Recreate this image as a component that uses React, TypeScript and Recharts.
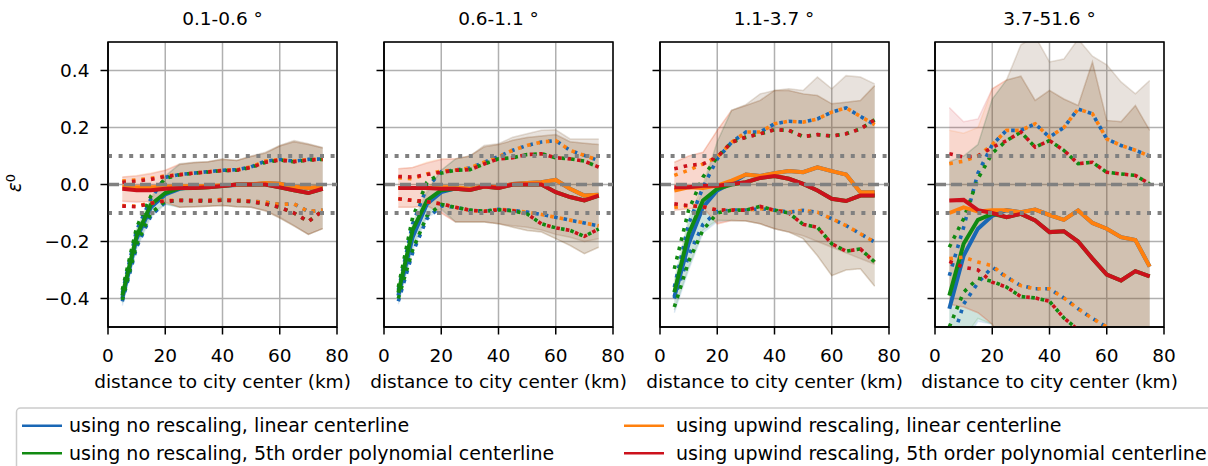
import React from 'react';
import { ComposedChart, Line, Area, XAxis, YAxis, CartesianGrid, ReferenceLine, ReferenceArea } from 'recharts';

// ---------- data ----------
const DISTANCE_KM = [5, 10, 15, 20, 25, 30, 35, 40, 45, 50, 55, 60, 65, 70, 75];
const PANEL_TITLES = ['0.1-0.6 °', '0.6-1.1 °', '1.1-3.7 °', '3.7-51.6 °'];
const X_TICKS = [0, 20, 40, 60, 80];
const Y_TICKS = [-0.4, -0.2, 0, 0.2, 0.4];
const X_DOMAIN = [0, 80];
const Y_DOMAIN = [-0.5, 0.5];
const ZERO_LEVEL = 0;
const TOLERANCE_LEVELS = [0.1, -0.1];
const X_LABEL = 'distance to city center (km)';

// panel 1 : 0.1-0.6 °
const p1BlueMean = [-0.40, -0.19, -0.08, -0.035, -0.015, -0.008, -0.006, -0.004, -0.002, 0.0, 0.004, 0.003, -0.008, -0.012, -0.008];
const p1OrangeMean = [-0.008, -0.01, -0.01, -0.008, -0.006, -0.006, -0.005, -0.003, -0.001, 0.001, 0.005, 0.003, -0.008, -0.012, -0.008];
const p1GreenMean = [-0.39, -0.18, -0.07, -0.03, -0.013, -0.012, -0.01, -0.005, 0.0, 0.0, 0.0, -0.01, -0.02, -0.03, -0.015];
const p1RedMean = [-0.015, -0.02, -0.02, -0.015, -0.012, -0.012, -0.01, -0.005, 0.0, 0.0, 0.0, -0.01, -0.02, -0.03, -0.015];
const p1BlueUp = [-0.38, -0.16, -0.05, 0.025, 0.035, 0.04, 0.045, 0.05, 0.052, 0.062, 0.082, 0.088, 0.082, 0.088, 0.09];
const p1OrangeUp = [0.012, 0.016, 0.022, 0.03, 0.035, 0.04, 0.045, 0.05, 0.052, 0.062, 0.082, 0.088, 0.082, 0.088, 0.09];
const p1GreenUp = [-0.37, -0.15, -0.04, 0.022, 0.034, 0.04, 0.044, 0.049, 0.05, 0.06, 0.078, 0.086, 0.08, 0.086, 0.088];
const p1RedUp = [0.008, 0.012, 0.018, 0.028, 0.034, 0.04, 0.044, 0.049, 0.05, 0.06, 0.078, 0.086, 0.08, 0.086, 0.088];
const p1BlueLo = [-0.41, -0.22, -0.11, -0.062, -0.055, -0.055, -0.055, -0.053, -0.055, -0.058, -0.062, -0.07, -0.068, -0.095, -0.09];
const p1OrangeLo = [-0.074, -0.076, -0.065, -0.056, -0.055, -0.055, -0.055, -0.053, -0.055, -0.058, -0.062, -0.07, -0.068, -0.095, -0.09];
const p1GreenLo = [-0.405, -0.21, -0.1, -0.058, -0.056, -0.057, -0.058, -0.055, -0.057, -0.06, -0.068, -0.08, -0.1, -0.13, -0.092];
const p1RedLo = [-0.076, -0.078, -0.066, -0.058, -0.056, -0.057, -0.058, -0.055, -0.057, -0.06, -0.068, -0.08, -0.1, -0.13, -0.092];
const p1BlueBandHi = [-0.375, -0.165, -0.055, 0.03, 0.073, 0.078, 0.08, 0.09, 0.084, 0.1, 0.113, 0.137, 0.154, 0.143, 0.13];
const p1BlueBandLo = [-0.425, -0.225, -0.115, -0.07, -0.08, -0.078, -0.076, -0.074, -0.078, -0.08, -0.091, -0.115, -0.144, -0.175, -0.155];
const p1OrangeBandHi = [0.026, 0.032, 0.04, 0.05, 0.073, 0.078, 0.08, 0.09, 0.084, 0.1, 0.113, 0.137, 0.154, 0.143, 0.13];
const p1OrangeBandLo = [-0.058, -0.06, -0.06, -0.062, -0.08, -0.078, -0.076, -0.074, -0.078, -0.08, -0.091, -0.115, -0.144, -0.175, -0.155];
const p1GreenBandHi = [-0.365, -0.155, -0.045, 0.03, 0.07, 0.076, 0.08, 0.088, 0.084, 0.098, 0.11, 0.135, 0.15, 0.14, 0.128];
const p1GreenBandLo = [-0.415, -0.215, -0.105, -0.068, -0.08, -0.078, -0.076, -0.074, -0.078, -0.08, -0.093, -0.118, -0.146, -0.175, -0.155];
const p1RedBandHi = [0.026, 0.03, 0.038, 0.05, 0.07, 0.076, 0.08, 0.088, 0.084, 0.098, 0.11, 0.135, 0.15, 0.14, 0.128];
const p1RedBandLo = [-0.06, -0.062, -0.06, -0.062, -0.08, -0.078, -0.076, -0.074, -0.078, -0.08, -0.093, -0.118, -0.146, -0.175, -0.155];

// panel 2 : 0.6-1.1 °
const p2BlueMean = [-0.39, -0.185, -0.068, -0.027, -0.013, -0.015, -0.007, -0.01, 0.002, 0.005, 0.008, 0.016, -0.015, -0.039, -0.036];
const p2OrangeMean = [-0.012, -0.012, -0.012, -0.01, -0.01, -0.015, -0.007, -0.01, 0.002, 0.005, 0.008, 0.016, -0.015, -0.039, -0.036];
const p2GreenMean = [-0.38, -0.16, -0.056, -0.02, -0.015, -0.019, -0.007, -0.012, 0.0, 0.0, 0.0, -0.027, -0.044, -0.056, -0.039];
const p2RedMean = [-0.012, -0.012, -0.012, -0.015, -0.015, -0.019, -0.007, -0.012, 0.0, 0.0, 0.0, -0.027, -0.044, -0.056, -0.039];
const p2BlueUp = [-0.37, -0.138, -0.01, 0.045, 0.051, 0.058, 0.078, 0.098, 0.12, 0.137, 0.149, 0.154, 0.12, 0.102, 0.084];
const p2OrangeUp = [0.024, 0.02, 0.037, 0.047, 0.051, 0.058, 0.078, 0.098, 0.12, 0.137, 0.149, 0.154, 0.12, 0.102, 0.084];
const p2GreenUp = [-0.36, -0.115, 0.008, 0.04, 0.05, 0.052, 0.072, 0.09, 0.094, 0.105, 0.108, 0.094, 0.09, 0.082, 0.061];
const p2RedUp = [0.028, 0.026, 0.035, 0.043, 0.05, 0.052, 0.072, 0.09, 0.094, 0.105, 0.108, 0.094, 0.09, 0.082, 0.061];
const p2BlueLo = [-0.41, -0.24, -0.12, -0.075, -0.08, -0.091, -0.094, -0.087, -0.091, -0.097, -0.105, -0.115, -0.125, -0.135, -0.145];
const p2OrangeLo = [-0.05, -0.056, -0.06, -0.068, -0.08, -0.091, -0.094, -0.087, -0.091, -0.097, -0.105, -0.115, -0.125, -0.135, -0.145];
const p2GreenLo = [-0.4, -0.23, -0.11, -0.07, -0.08, -0.09, -0.094, -0.089, -0.092, -0.103, -0.138, -0.152, -0.161, -0.182, -0.156];
const p2RedLo = [-0.05, -0.056, -0.06, -0.068, -0.08, -0.09, -0.094, -0.089, -0.092, -0.103, -0.138, -0.152, -0.161, -0.182, -0.156];
const p2BlueBandHi = [-0.37, -0.15, -0.03, 0.05, 0.09, 0.1, 0.137, 0.143, 0.166, 0.178, 0.19, 0.192, 0.16, 0.16, 0.16];
const p2BlueBandLo = [-0.42, -0.23, -0.115, -0.09, -0.132, -0.132, -0.132, -0.138, -0.145, -0.15, -0.16, -0.175, -0.185, -0.2, -0.19];
const p2OrangeBandHi = [0.055, 0.06, 0.078, 0.09, 0.09, 0.1, 0.137, 0.143, 0.166, 0.178, 0.19, 0.192, 0.16, 0.16, 0.16];
const p2OrangeBandLo = [-0.08, -0.08, -0.075, -0.1, -0.132, -0.132, -0.132, -0.138, -0.145, -0.15, -0.16, -0.175, -0.185, -0.2, -0.19];
const p2GreenBandHi = [-0.36, -0.135, -0.02, 0.05, 0.09, 0.1, 0.132, 0.14, 0.155, 0.165, 0.17, 0.175, 0.15, 0.145, 0.14];
const p2GreenBandLo = [-0.41, -0.215, -0.105, -0.085, -0.132, -0.132, -0.132, -0.138, -0.15, -0.161, -0.167, -0.19, -0.214, -0.243, -0.22];
const p2RedBandHi = [0.055, 0.06, 0.075, 0.088, 0.09, 0.1, 0.132, 0.14, 0.155, 0.165, 0.17, 0.175, 0.15, 0.145, 0.14];
const p2RedBandLo = [-0.08, -0.08, -0.075, -0.1, -0.132, -0.132, -0.132, -0.138, -0.15, -0.161, -0.167, -0.19, -0.214, -0.243, -0.22];

// panel 3 : 1.1-3.7 °
const p3BlueMean = [-0.395, -0.208, -0.08, -0.021, 0.005, 0.035, 0.03, 0.04, 0.047, 0.043, 0.06, 0.047, 0.035, -0.027, -0.027];
const p3OrangeMean = [-0.021, -0.01, -0.012, -0.004, 0.014, 0.035, 0.03, 0.04, 0.047, 0.043, 0.06, 0.047, 0.035, -0.027, -0.027];
const p3GreenMean = [-0.378, -0.173, -0.056, -0.015, 0.0, 0.008, 0.023, 0.03, 0.02, 0.002, -0.021, -0.05, -0.058, -0.039, -0.039];
const p3RedMean = [-0.01, -0.01, -0.004, -0.004, 0.002, 0.008, 0.023, 0.03, 0.02, 0.002, -0.021, -0.05, -0.058, -0.039, -0.039];
const p3BlueUp = [-0.36, -0.138, -0.01, 0.09, 0.148, 0.184, 0.184, 0.213, 0.222, 0.219, 0.23, 0.254, 0.269, 0.239, 0.21];
const p3OrangeUp = [0.032, 0.05, 0.072, 0.096, 0.148, 0.184, 0.184, 0.213, 0.222, 0.219, 0.23, 0.254, 0.269, 0.239, 0.21];
const p3GreenUp = [-0.296, -0.09, 0.026, 0.096, 0.148, 0.166, 0.178, 0.192, 0.19, 0.168, 0.175, 0.17, 0.178, 0.195, 0.227];
const p3RedUp = [0.055, 0.067, 0.072, 0.096, 0.148, 0.166, 0.178, 0.192, 0.19, 0.168, 0.175, 0.17, 0.178, 0.195, 0.227];
const p3BlueLo = [-0.4, -0.25, -0.14, -0.095, -0.09, -0.09, -0.085, -0.09, -0.097, -0.091, -0.097, -0.12, -0.144, -0.173, -0.202];
const p3OrangeLo = [-0.08, -0.074, -0.078, -0.09, -0.09, -0.09, -0.085, -0.09, -0.097, -0.091, -0.097, -0.12, -0.144, -0.173, -0.202];
const p3GreenLo = [-0.43, -0.27, -0.16, -0.1, -0.09, -0.09, -0.077, -0.09, -0.1, -0.14, -0.15, -0.208, -0.234, -0.226, -0.272];
const p3RedLo = [-0.068, -0.074, -0.078, -0.09, -0.09, -0.09, -0.077, -0.09, -0.1, -0.14, -0.15, -0.208, -0.234, -0.226, -0.272];
const p3BlueBandHi = [-0.36, -0.14, -0.02, 0.15, 0.26, 0.28, 0.318, 0.33, 0.336, 0.33, 0.377, 0.336, 0.382, 0.377, 0.353];
const p3BlueBandLo = [-0.45, -0.3, -0.17, -0.13, -0.126, -0.128, -0.138, -0.155, -0.167, -0.18, -0.2, -0.22, -0.24, -0.26, -0.28];
const p3OrangeBandHi = [0.078, 0.1, 0.113, 0.19, 0.26, 0.28, 0.318, 0.33, 0.336, 0.33, 0.377, 0.336, 0.382, 0.377, 0.353];
const p3OrangeBandLo = [-0.09, -0.085, -0.08, -0.138, -0.126, -0.128, -0.138, -0.155, -0.167, -0.18, -0.2, -0.22, -0.24, -0.26, -0.28];
const p3GreenBandHi = [-0.34, -0.12, 0.0, 0.15, 0.26, 0.277, 0.295, 0.33, 0.33, 0.318, 0.312, 0.283, 0.289, 0.295, 0.347];
const p3GreenBandLo = [-0.44, -0.29, -0.16, -0.125, -0.126, -0.128, -0.138, -0.155, -0.167, -0.19, -0.25, -0.32, -0.3, -0.296, -0.357];
const p3RedBandHi = [0.078, 0.1, 0.113, 0.19, 0.26, 0.277, 0.295, 0.33, 0.33, 0.318, 0.312, 0.283, 0.289, 0.295, 0.347];
const p3RedBandLo = [-0.09, -0.085, -0.08, -0.138, -0.126, -0.128, -0.138, -0.155, -0.167, -0.19, -0.25, -0.32, -0.3, -0.296, -0.357];

// panel 4 : 3.7-51.6 °
const p4BlueMean = [-0.436, -0.25, -0.155, -0.11, -0.09, -0.097, -0.088, -0.107, -0.124, -0.091, -0.135, -0.155, -0.185, -0.195, -0.288];
const p4OrangeMean = [-0.1, -0.08, -0.095, -0.09, -0.09, -0.097, -0.088, -0.107, -0.124, -0.091, -0.135, -0.155, -0.185, -0.195, -0.288];
const p4GreenMean = [-0.39, -0.208, -0.124, -0.103, -0.115, -0.103, -0.126, -0.167, -0.164, -0.2, -0.26, -0.316, -0.337, -0.304, -0.322];
const p4RedMean = [-0.056, -0.054, -0.09, -0.1, -0.115, -0.103, -0.126, -0.167, -0.164, -0.2, -0.26, -0.316, -0.337, -0.304, -0.322];
const p4BlueUp = [-0.32, -0.15, 0.04, 0.14, 0.19, 0.19, 0.213, 0.166, 0.2, 0.265, 0.248, 0.16, 0.137, 0.12, 0.1];
const p4OrangeUp = [0.073, 0.082, 0.1, 0.14, 0.19, 0.19, 0.213, 0.166, 0.2, 0.265, 0.248, 0.16, 0.137, 0.12, 0.1];
const p4GreenUp = [-0.22, -0.12, 0.02, 0.11, 0.154, 0.184, 0.131, 0.154, 0.12, 0.073, 0.078, 0.043, 0.037, 0.032, 0.002];
const p4RedUp = [0.108, 0.096, 0.1, 0.13, 0.154, 0.184, 0.131, 0.154, 0.12, 0.073, 0.078, 0.043, 0.037, 0.032, 0.002];
const p4BlueLo = [-0.58, -0.42, -0.345, -0.29, -0.325, -0.355, -0.366, -0.366, -0.398, -0.436, -0.47, -0.5, -0.53, -0.56, -0.6];
const p4OrangeLo = [-0.26, -0.255, -0.272, -0.285, -0.325, -0.355, -0.366, -0.366, -0.398, -0.436, -0.47, -0.5, -0.53, -0.56, -0.6];
const p4GreenLo = [-0.5, -0.378, -0.329, -0.34, -0.36, -0.393, -0.398, -0.41, -0.468, -0.51, -0.56, -0.6, -0.64, -0.67, -0.7];
const p4RedLo = [-0.27, -0.29, -0.3, -0.343, -0.36, -0.393, -0.398, -0.41, -0.468, -0.51, -0.56, -0.6, -0.64, -0.67, -0.7];
const p4BlueBandHi = [0.08, 0.1, 0.14, 0.3, 0.367, 0.49, 0.52, 0.43, 0.44, 0.51, 0.45, 0.42, 0.36, 0.318, 0.365];
const p4BlueBandLo = [-0.62, -0.56, -0.48, -0.49, -0.62, -0.65, -0.66, -0.68, -0.7, -0.72, -0.74, -0.76, -0.78, -0.8, -0.82];
const p4OrangeBandHi = [0.19, 0.18, 0.2, 0.336, 0.367, 0.49, 0.52, 0.43, 0.44, 0.51, 0.45, 0.42, 0.36, 0.318, 0.365];
const p4OrangeBandLo = [-0.42, -0.43, -0.45, -0.49, -0.62, -0.65, -0.66, -0.68, -0.7, -0.72, -0.74, -0.76, -0.78, -0.8, -0.82];
const p4GreenBandHi = [0.08, 0.1, 0.14, 0.3, 0.367, 0.38, 0.295, 0.33, 0.3, 0.277, 0.43, 0.225, 0.22, 0.277, 0.19];
const p4GreenBandLo = [-0.6, -0.54, -0.47, -0.49, -0.65, -0.7, -0.72, -0.75, -0.8, -0.85, -0.9, -0.92, -0.94, -0.96, -0.98];
const p4RedBandHi = [0.27, 0.22, 0.23, 0.336, 0.367, 0.38, 0.295, 0.33, 0.3, 0.277, 0.43, 0.225, 0.22, 0.277, 0.19];
const p4RedBandLo = [-0.42, -0.43, -0.45, -0.49, -0.65, -0.7, -0.72, -0.75, -0.8, -0.85, -0.9, -0.92, -0.94, -0.96, -0.98];

// ---------- series meta ----------
const SERIES_KEYS = ['blue', 'green', 'orange', 'red'];
const SERIES_COLORS: Record<string, string> = {
  blue: '#1967b5',
  green: '#118a11',
  orange: '#ff800e',
  red: '#cc111c',
};
const SERIES_LABELS: Record<string, string> = {
  blue: 'using no rescaling, linear centerline',
  green: 'using no rescaling, 5th order polynomial centerline',
  orange: 'using upwind rescaling, linear centerline',
  red: 'using upwind rescaling, 5th order polynomial centerline',
};

const PANEL_SERIES: any[] = [
  {
    blue: { mean: p1BlueMean, up: p1BlueUp, lo: p1BlueLo, bandHi: p1BlueBandHi, bandLo: p1BlueBandLo },
    green: { mean: p1GreenMean, up: p1GreenUp, lo: p1GreenLo, bandHi: p1GreenBandHi, bandLo: p1GreenBandLo },
    orange: { mean: p1OrangeMean, up: p1OrangeUp, lo: p1OrangeLo, bandHi: p1OrangeBandHi, bandLo: p1OrangeBandLo },
    red: { mean: p1RedMean, up: p1RedUp, lo: p1RedLo, bandHi: p1RedBandHi, bandLo: p1RedBandLo },
  },
  {
    blue: { mean: p2BlueMean, up: p2BlueUp, lo: p2BlueLo, bandHi: p2BlueBandHi, bandLo: p2BlueBandLo },
    green: { mean: p2GreenMean, up: p2GreenUp, lo: p2GreenLo, bandHi: p2GreenBandHi, bandLo: p2GreenBandLo },
    orange: { mean: p2OrangeMean, up: p2OrangeUp, lo: p2OrangeLo, bandHi: p2OrangeBandHi, bandLo: p2OrangeBandLo },
    red: { mean: p2RedMean, up: p2RedUp, lo: p2RedLo, bandHi: p2RedBandHi, bandLo: p2RedBandLo },
  },
  {
    blue: { mean: p3BlueMean, up: p3BlueUp, lo: p3BlueLo, bandHi: p3BlueBandHi, bandLo: p3BlueBandLo },
    green: { mean: p3GreenMean, up: p3GreenUp, lo: p3GreenLo, bandHi: p3GreenBandHi, bandLo: p3GreenBandLo },
    orange: { mean: p3OrangeMean, up: p3OrangeUp, lo: p3OrangeLo, bandHi: p3OrangeBandHi, bandLo: p3OrangeBandLo },
    red: { mean: p3RedMean, up: p3RedUp, lo: p3RedLo, bandHi: p3RedBandHi, bandLo: p3RedBandLo },
  },
  {
    blue: { mean: p4BlueMean, up: p4BlueUp, lo: p4BlueLo, bandHi: p4BlueBandHi, bandLo: p4BlueBandLo },
    green: { mean: p4GreenMean, up: p4GreenUp, lo: p4GreenLo, bandHi: p4GreenBandHi, bandLo: p4GreenBandLo },
    orange: { mean: p4OrangeMean, up: p4OrangeUp, lo: p4OrangeLo, bandHi: p4OrangeBandHi, bandLo: p4OrangeBandLo },
    red: { mean: p4RedMean, up: p4RedUp, lo: p4RedLo, bandHi: p4RedBandHi, bandLo: p4RedBandLo },
  },
];

const ROWS = PANEL_SERIES.map((panel) =>
  DISTANCE_KM.map((x, i) => {
    const row: any = { x };
    SERIES_KEYS.forEach((k) => {
      const s = panel[k];
      row[k + 'Mean'] = s.mean[i];
      row[k + 'Up'] = s.up[i];
      row[k + 'Lo'] = s.lo[i];
      row[k + 'Band'] = [s.bandLo[i], s.bandHi[i]];
    });
    return row;
  })
);

// ---------- layout ----------
const FONT = "'DejaVu Sans', 'Liberation Sans', sans-serif";
const FS = 18.5;
const LEGEND_FS = 19;
const PLOT_LEFTS = [108, 384, 659.5, 935];
const PLOT_TOP = 42;
const PLOT_W = 229;
const PLOT_H = 285;
const MT = 5;
const MR = 34;
const XH = 65;
const BAND_OPACITY = 0.115;

const fmtY = (v: number) => (v < 0 ? '\u2212' : '') + Math.abs(v).toFixed(1);

function Panel({ index }: { index: number }) {
  const first = index === 0;
  const yW = first ? 70 : 12;
  const ml = first ? 0 : 24;
  const rows = ROWS[index];
  return (
    <div style={{ position: 'absolute', left: PLOT_LEFTS[index] - yW - ml, top: PLOT_TOP - MT }}>
      <ComposedChart
        width={ml + yW + PLOT_W + MR}
        height={MT + PLOT_H + XH}
        data={rows}
        margin={{ top: MT, right: MR, bottom: 0, left: ml }}
      >
        <CartesianGrid stroke="#b0b0b0" strokeWidth={1.5} />
        <XAxis
          type="number"
          dataKey="x"
          domain={X_DOMAIN}
          ticks={X_TICKS}
          interval={0}
          allowDataOverflow
          height={XH}
          tick={{ fill: '#000', fontSize: FS }}
          tickLine={{ stroke: '#000', strokeWidth: 1.5 }}
          axisLine={{ stroke: '#000', strokeWidth: 1.5 }}
          tickSize={7.5}
          tickMargin={14}
          label={{ value: X_LABEL, position: 'insideBottom', offset: 4, fill: '#000', fontSize: FS }}
        />
        <YAxis
          type="number"
          domain={Y_DOMAIN}
          ticks={Y_TICKS}
          interval={0}
          allowDataOverflow
          width={yW}
          tick={{ fill: '#000', fontSize: FS }}
          tickFormatter={first ? fmtY : () => ''}
          tickLine={{ stroke: '#000', strokeWidth: 1.5 }}
          axisLine={{ stroke: '#000', strokeWidth: 1.5 }}
          tickSize={7.5}
          tickMargin={11}
        />
        {SERIES_KEYS.map((k) => (
          <Area
            key={'band-' + k}
            type="linear"
            dataKey={k + 'Band'}
            fill={SERIES_COLORS[k]}
            fillOpacity={BAND_OPACITY}
            stroke={SERIES_COLORS[k]}
            strokeOpacity={0.12}
            strokeWidth={1.5}
            dot={false}
            activeDot={false}
            isAnimationActive={false}
          />
        ))}
        {SERIES_KEYS.map((k) => [
          <Line
            key={'mean-' + k}
            type="linear"
            dataKey={k + 'Mean'}
            stroke={SERIES_COLORS[k]}
            strokeWidth={4}
            dot={false}
            activeDot={false}
            isAnimationActive={false}
          />,
          <Line
            key={'up-' + k}
            type="linear"
            dataKey={k + 'Up'}
            stroke={SERIES_COLORS[k]}
            strokeWidth={3.6}
            strokeDasharray="3.6 6"
            dot={false}
            activeDot={false}
            isAnimationActive={false}
          />,
          <Line
            key={'lo-' + k}
            type="linear"
            dataKey={k + 'Lo'}
            stroke={SERIES_COLORS[k]}
            strokeWidth={3.6}
            strokeDasharray="3.6 6"
            dot={false}
            activeDot={false}
            isAnimationActive={false}
          />,
        ])}
        <ReferenceLine y={ZERO_LEVEL} stroke="#808080" strokeWidth={3.6} strokeDasharray="11 5" />
        {TOLERANCE_LEVELS.map((v) => (
          <ReferenceLine key={'tol-' + v} y={v} stroke="#808080" strokeWidth={4} strokeDasharray="4 6.6" />
        ))}
        <ReferenceArea
          x1={X_DOMAIN[0]}
          x2={X_DOMAIN[1]}
          y1={Y_DOMAIN[0]}
          y2={Y_DOMAIN[1]}
          fill="none"
          fillOpacity={0}
          stroke="#000"
          strokeWidth={1.5}
          ifOverflow="visible"
        />
      </ComposedChart>
    </div>
  );
}

function Overlay() {
  const rowY = [425.7, 453.3];
  const cols = [
    { handle: [22, 62], text: 69 },
    { handle: [624, 664], text: 676 },
  ];
  const legendOrder = [
    ['blue', 'green'],
    ['orange', 'red'],
  ];
  return (
    <svg
      width={1208}
      height={466}
      style={{ position: 'absolute', left: 0, top: 0, pointerEvents: 'none' }}
      fontFamily={FONT}
    >
      {PANEL_TITLES.map((t, i) => (
        <text key={t} x={PLOT_LEFTS[i] + PLOT_W / 2} y={25} textAnchor="middle" fontSize={FS} fill="#000">
          {t}
        </text>
      ))}
      <text transform="translate(21,183) rotate(-90)" textAnchor="middle" fontSize={FS} fill="#000">
        <tspan fontStyle="italic">ε</tspan>
        <tspan fontSize={13} dy={-6.5}>0</tspan>
      </text>
      <rect x={16.5} y={408} width={1260} height={120} rx={4} fill="#fff" stroke="#cccccc" strokeWidth={1.5} />
      {legendOrder.map((col, ci) =>
        col.map((k, ri) => (
          <g key={k}>
            <line
              x1={cols[ci].handle[0]}
              x2={cols[ci].handle[1]}
              y1={rowY[ri]}
              y2={rowY[ri]}
              stroke={SERIES_COLORS[k]}
              strokeWidth={2.6}
            />
            <text x={cols[ci].text} y={rowY[ri] + 6.6} fontSize={LEGEND_FS} fill="#000">
              {SERIES_LABELS[k]}
            </text>
          </g>
        ))
      )}
    </svg>
  );
}

export default function App() {
  return (
    <div
      style={{
        position: 'absolute',
        left: 0,
        top: 0,
        width: 1208,
        height: 466,
        overflow: 'hidden',
        background: '#fff',
        fontFamily: FONT,
      }}
    >
      {[0, 1, 2, 3].map((i) => (
        <Panel key={i} index={i} />
      ))}
      <Overlay />
    </div>
  );
}
